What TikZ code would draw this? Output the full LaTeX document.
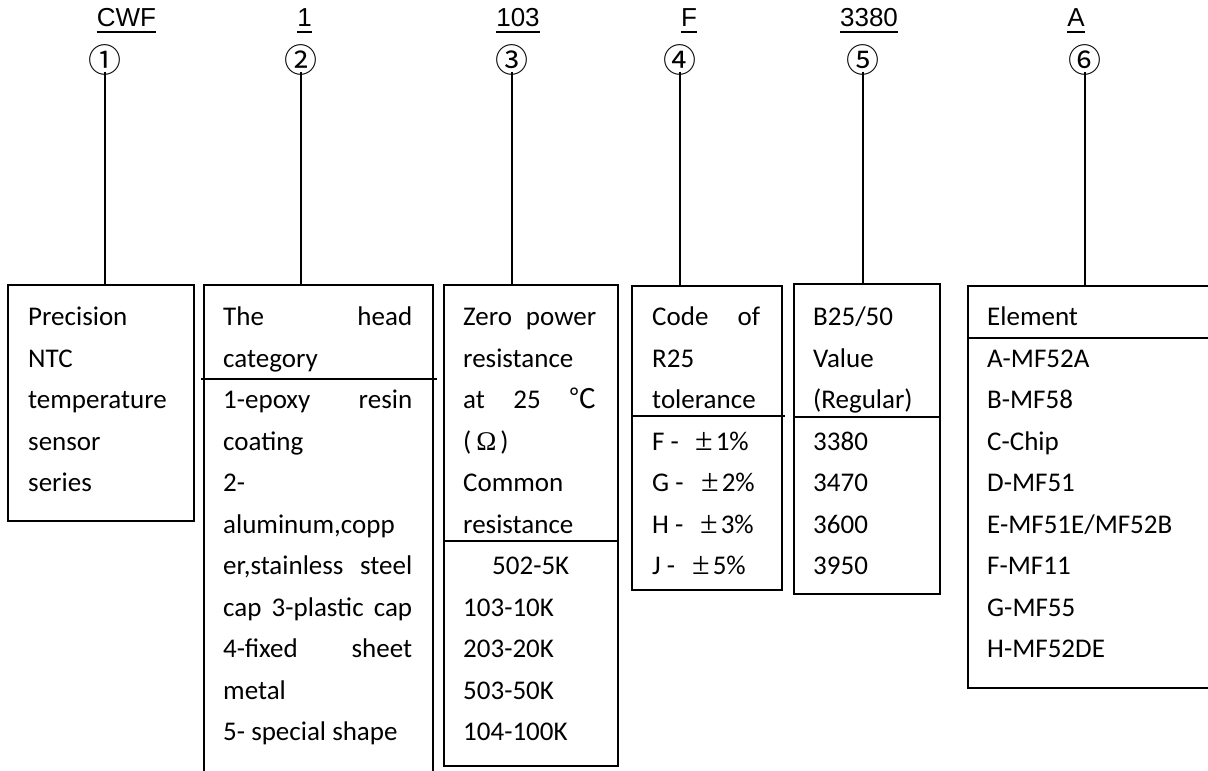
\documentclass[tikz,border=0pt]{standalone}
\usepackage{fontspec}
\setmainfont{Carlito}
\newfontfamily\hdrfont{Liberation Sans}
\newfontfamily\cjkfont{Noto Sans CJK SC}
\newfontfamily\serffont{Liberation Serif}
\tikzset{
  txt/.style={anchor=base west, inner sep=0pt, font=\fontsize{27}{27}\selectfont},
  boxx/.style={draw, line width=1.6pt, anchor=north west, inner sep=0pt},
  divline/.style={line width=1.3pt},
  conn/.style={line width=1.6pt},
  lab/.style={anchor=base, inner sep=0pt, font=\hdrfont\fontsize{26}{26}\selectfont},
  uline/.style={line width=1.3pt},
  num/.style={inner sep=0pt, font=\cjkfont\fontsize{33}{33}\selectfont},
}
\newcommand\pmsign{{\serffont\fontsize{32}{32}\selectfont ±}}
\begin{document}
\begin{tikzpicture}[x=1pt,y=-1pt]
\useasboundingbox (0,0) rectangle (1208,771);
\fill[white] (0,0) rectangle (1208,771);
\clip (0,0) rectangle (1208,771);

% header labels
\node[lab] (l1) at (126.5,27) {CWF};
\node[lab] (l2) at (304.5,27) {1};
\node[lab] (l3) at (518,27) {103};
\node[lab] (l4) at (689,27) {F};
\node[lab] (l5) at (869,27) {3380};
\node[lab] (l6) at (1076,27) {A};
\foreach \n in {1,...,6}{
  \draw[uline] ([yshift=-5pt]l\n.base west) -- ([yshift=-5pt]l\n.base east);
}

% circled numbers
\node[num] (c1) at (105,59.5) {①};
\node[num] (c2) at (301,59.5) {②};
\node[num] (c3) at (512,59.5) {③};
\node[num] (c4) at (680,59.5) {④};
\node[num] (c5) at (863,59.5) {⑤};
\node[num] (c6) at (1085,59.5) {⑥};

% boxes
\node[boxx, minimum width=186pt, minimum height=236pt] (b1) at (7,284) {};
\node[boxx, minimum width=229pt, minimum height=540pt] (b2) at (203,284) {};
\node[boxx, minimum width=174pt, minimum height=481pt] (b3) at (443,284) {};
\node[boxx, minimum width=150pt, minimum height=304pt] (b4) at (631,285) {};
\node[boxx, minimum width=146pt, minimum height=310pt] (b5) at (793,283) {};
\node[boxx, minimum width=270pt, minimum height=402pt] (b6) at (967,285) {};

% connectors
\foreach \n in {1,...,6}{
  \draw[conn] ([yshift=-2pt]c\n.center) ++(0,10) -- (c\n.center |- b\n.north);
}

% dividers
\draw[divline] (201,379) -- (437,379);
\draw[divline] (443,541) -- (617,541);
\draw[divline] (633,416) -- (785,416);
\draw[divline] (793,417) -- (941,417);
\draw[divline] (967,338) -- (1230,338);

% box 1
\node[txt] (t1a) at (28,325.5) {Precision};
\node[txt] (t1b) at (28,367) {NTC};
\node[txt] (t1c) at (28,408.5) {temperature};
\node[txt] (t1d) at (28,450) {sensor};
\node[txt] (t1e) at (28,491.5) {series};

% box 2
\node[txt] (t2a) at (223,325.5) {\makebox[189pt][s]{The head}};
\node[txt] (t2b) at (223,367) {category};
\node[txt] (t2c) at (223,408.5) {\makebox[189pt][s]{1-epoxy resin}};
\node[txt] (t2d) at (223,450) {coating};
\node[txt] (t2e) at (223,491.5) {2-};
\node[txt] (t2f) at (223,533) {aluminum,copp};
\node[txt] (t2g) at (223,574.5) {\makebox[189pt][s]{er,stainless steel}};
\node[txt] (t2h) at (223,616) {\makebox[189pt][s]{cap 3-plastic cap}};
\node[txt] (t2i) at (223,657.5) {\makebox[189pt][s]{4-fixed sheet}};
\node[txt] (t2j) at (223,699) {metal};
\node[txt] (t2k) at (223,740.5) {5- special shape};

% box 3
\node[txt] (t3a) at (463,325.5) {\makebox[133pt][s]{Zero power}};
\node[txt] (t3b) at (463,367) {resistance};
\node[txt] (t3c) at (463,408.5) {\makebox[133pt][s]{at 25 {\cjkfont ℃}}};
\node[txt] (t3d) at (463,450) {(\kern5pt{\serffont Ω}\kern4pt)};
\node[txt] (t3e) at (463,491.5) {Common};
\node[txt] (t3f) at (463,533) {resistance};
\node[txt] (t3g) at (492,574.5) {502-5K};
\node[txt] (t3h) at (463,616) {103-10K};
\node[txt] (t3i) at (463,657.5) {203-20K};
\node[txt] (t3j) at (463,699) {503-50K};
\node[txt] (t3k) at (463,740.5) {104-100K};

% box 4
\node[txt] (t4a) at (652,325.5) {\makebox[108pt][s]{Code of}};
\node[txt] (t4b) at (652,367) {R25};
\node[txt] (t4c) at (652,408.5) {tolerance};
\node[txt] (t4d) at (652,450) {\makebox[43pt][l]{F -}\pmsign\kern3pt 1\%};
\node[txt] (t4e) at (652,491.5) {\makebox[49pt][l]{G -}\pmsign\kern3pt 2\%};
\node[txt] (t4f) at (652,533) {\makebox[48pt][l]{H -}\pmsign\kern3pt 3\%};
\node[txt] (t4g) at (652,574.5) {\makebox[40pt][l]{J -}\pmsign\kern3pt 5\%};

% box 5
\node[txt] (t5a) at (813,325.5) {B25/50};
\node[txt] (t5b) at (813,367) {Value};
\node[txt] (t5c) at (813,408.5) {(Regular)};
\node[txt] (t5d) at (813,450) {3380};
\node[txt] (t5e) at (813,491.5) {3470};
\node[txt] (t5f) at (813,533) {3600};
\node[txt] (t5g) at (813,574.5) {3950};

% box 6
\node[txt] (t6a) at (987,325.5) {Element};
\node[txt] (t6b) at (987,367) {A-MF52A};
\node[txt] (t6c) at (987,408.5) {B-MF58};
\node[txt] (t6d) at (987,450) {C-Chip};
\node[txt] (t6e) at (987,491.5) {D-MF51};
\node[txt] (t6f) at (987,533) {E-MF51E/MF52B};
\node[txt] (t6g) at (987,574.5) {F-MF11};
\node[txt] (t6h) at (987,616) {G-MF55};
\node[txt] (t6i) at (987,657.5) {H-MF52DE};
\end{tikzpicture}
\end{document}
